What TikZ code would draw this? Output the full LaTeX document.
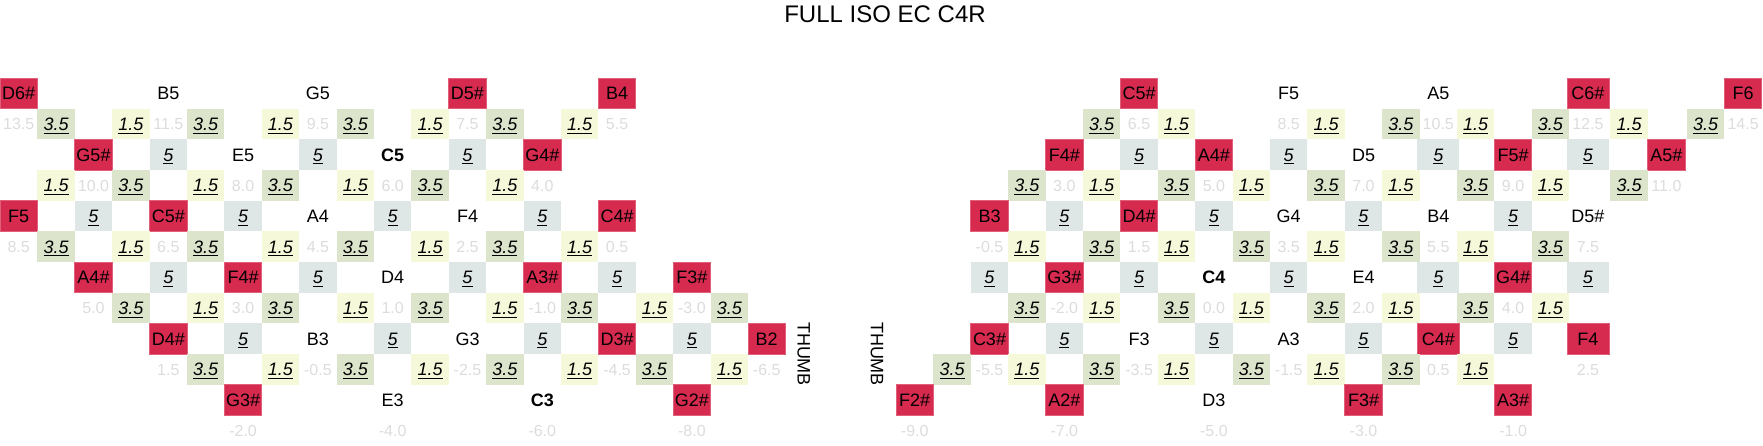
\documentclass[tikz,border=0pt]{standalone}
\usepackage{fontspec}
\setmainfont{Liberation Sans}

\definecolor{keyred}{HTML}{D62A4F}
\definecolor{pitchgray}{HTML}{DCDCDC}
\definecolor{intgreen}{HTML}{DCE5CC}
\definecolor{intyellow}{HTML}{F6F8DA}
\definecolor{intblue}{HTML}{DFE6E6}

\newcommand\cellfont{\fontsize{13.5}{16}\selectfont}
\newcommand\pitchfont{\fontsize{12}{14}\selectfont}
\newlength\ivalwd
\newcommand\ival[1]{\settowidth\ivalwd{\textit{#1}}\textit{#1}\hspace{-\ivalwd}\rule[-2.5pt]{\ivalwd}{0.9pt}}

\begin{document}
\begin{tikzpicture}[x=0.75pt, y=-0.75pt,
    cell/.style={inner sep=0pt, minimum width=28.05pt, minimum height=23pt, text height=9.7pt, text depth=0pt, font=\cellfont},
    note/.style={cell},
    cnote/.style={cell, font=\cellfont\bfseries},
    redkey/.style={cell, fill=keyred, draw=keyred!75!white, line width=0.5pt},
    pitch/.style={cell, text height=8.6pt, font=\pitchfont, text=pitchgray},
    fifthbox/.style={cell, fill=intgreen},
    thirdbox/.style={cell, fill=intyellow},
    seventhbox/.style={cell, fill=intblue},
    thumb/.style={inner sep=0pt, text height=9.7pt, text depth=0pt, font=\cellfont, rotate=-90},
    grid/.style={x=28.05pt, y=-23pt}]

    \useasboundingbox (0,0) rectangle (1763,446);

    % Title
    \node[inner sep=0pt, text height=12.9pt, text depth=0pt, font=\fontsize{18}{22}\selectfont] (title) at (885,14) {FULL ISO EC C4R};

    %% Left hand side
    \begin{scope}[grid, shift={(14.025pt,-70pt)}]
    % Row 0
    \node[redkey] (L0-0) at (0,0) {D6\#};
    \node[note] (L0-4) at (4,0) {B5};
    \node[note] (L0-8) at (8,0) {G5};
    \node[redkey] (L0-12) at (12,0) {D5\#};
    \node[redkey] (L0-16) at (16,0) {B4};

    % Row 1
    \node[pitch] (L1-0) at (0,1) {13.5}; \node[fifthbox] (L1-1) at (1,1) {\ival{3.5}}; \node[thirdbox] (L1-3) at (3,1) {\ival{1.5}};
    \node[pitch] (L1-4) at (4,1) {11.5}; \node[fifthbox] (L1-5) at (5,1) {\ival{3.5}}; \node[thirdbox] (L1-7) at (7,1) {\ival{1.5}};
    \node[pitch] (L1-8) at (8,1) {9.5}; \node[fifthbox] (L1-9) at (9,1) {\ival{3.5}}; \node[thirdbox] (L1-11) at (11,1) {\ival{1.5}};
    \node[pitch] (L1-12) at (12,1) {7.5}; \node[fifthbox] (L1-13) at (13,1) {\ival{3.5}}; \node[thirdbox] (L1-15) at (15,1) {\ival{1.5}};
    \node[pitch] (L1-16) at (16,1) {5.5};

    % Row 2
    \node[redkey] (L2-2) at (2,2) {G5\#};
    \node[seventhbox] (L2-4) at (4,2) {\ival{5}};
    \node[note] (L2-6) at (6,2) {E5};
    \node[seventhbox] (L2-8) at (8,2) {\ival{5}};
    \node[cnote] (L2-10) at (10,2) {C5};
    \node[seventhbox] (L2-12) at (12,2) {\ival{5}};
    \node[redkey] (L2-14) at (14,2) {G4\#};

    % Row 3
    \node[thirdbox] (L3-1) at (1,3) {\ival{1.5}}; \node[pitch] (L3-2) at (2,3) {10.0}; \node[fifthbox] (L3-3) at (3,3) {\ival{3.5}};
    \node[thirdbox] (L3-5) at (5,3) {\ival{1.5}}; \node[pitch] (L3-6) at (6,3) {8.0}; \node[fifthbox] (L3-7) at (7,3) {\ival{3.5}};
    \node[thirdbox] (L3-9) at (9,3) {\ival{1.5}}; \node[pitch] (L3-10) at (10,3) {6.0}; \node[fifthbox] (L3-11) at (11,3) {\ival{3.5}};
    \node[thirdbox] (L3-13) at (13,3) {\ival{1.5}}; \node[pitch] (L3-14) at (14,3) {4.0};

    % Row 4
    \node[redkey] (L4-0) at (0,4) {F5};
    \node[seventhbox] (L4-2) at (2,4) {\ival{5}};
    \node[redkey] (L4-4) at (4,4) {C5\#};
    \node[seventhbox] (L4-6) at (6,4) {\ival{5}};
    \node[note] (L4-8) at (8,4) {A4};
    \node[seventhbox] (L4-10) at (10,4) {\ival{5}};
    \node[note] (L4-12) at (12,4) {F4};
    \node[seventhbox] (L4-14) at (14,4) {\ival{5}};
    \node[redkey] (L4-16) at (16,4) {C4\#};

    % Row 5
    \node[pitch] (L5-0) at (0,5) {8.5}; \node[fifthbox] (L5-1) at (1,5) {\ival{3.5}}; \node[thirdbox] (L5-3) at (3,5) {\ival{1.5}};
    \node[pitch] (L5-4) at (4,5) {6.5}; \node[fifthbox] (L5-5) at (5,5) {\ival{3.5}}; \node[thirdbox] (L5-7) at (7,5) {\ival{1.5}};
    \node[pitch] (L5-8) at (8,5) {4.5}; \node[fifthbox] (L5-9) at (9,5) {\ival{3.5}}; \node[thirdbox] (L5-11) at (11,5) {\ival{1.5}};
    \node[pitch] (L5-12) at (12,5) {2.5}; \node[fifthbox] (L5-13) at (13,5) {\ival{3.5}}; \node[thirdbox] (L5-15) at (15,5) {\ival{1.5}};
    \node[pitch] (L5-16) at (16,5) {0.5};

    % Row 6
    \node[redkey] (L6-2) at (2,6) {A4\#};
    \node[seventhbox] (L6-4) at (4,6) {\ival{5}};
    \node[redkey] (L6-6) at (6,6) {F4\#};
    \node[seventhbox] (L6-8) at (8,6) {\ival{5}};
    \node[note] (L6-10) at (10,6) {D4};
    \node[seventhbox] (L6-12) at (12,6) {\ival{5}};
    \node[redkey] (L6-14) at (14,6) {A3\#};
    \node[seventhbox] (L6-16) at (16,6) {\ival{5}};
    \node[redkey] (L6-18) at (18,6) {F3\#};

    % Row 7
    \node[pitch] (L7-2) at (2,7) {5.0}; \node[fifthbox] (L7-3) at (3,7) {\ival{3.5}};
    \node[thirdbox] (L7-5) at (5,7) {\ival{1.5}}; \node[pitch] (L7-6) at (6,7) {3.0}; \node[fifthbox] (L7-7) at (7,7) {\ival{3.5}};
    \node[thirdbox] (L7-9) at (9,7) {\ival{1.5}}; \node[pitch] (L7-10) at (10,7) {1.0}; \node[fifthbox] (L7-11) at (11,7) {\ival{3.5}};
    \node[thirdbox] (L7-13) at (13,7) {\ival{1.5}}; \node[pitch] (L7-14) at (14,7) {-1.0}; \node[fifthbox] (L7-15) at (15,7) {\ival{3.5}};
    \node[thirdbox] (L7-17) at (17,7) {\ival{1.5}}; \node[pitch] (L7-18) at (18,7) {-3.0}; \node[fifthbox] (L7-19) at (19,7) {\ival{3.5}};

    % Row 8
    \node[redkey] (L8-4) at (4,8) {D4\#};
    \node[seventhbox] (L8-6) at (6,8) {\ival{5}};
    \node[note] (L8-8) at (8,8) {B3};
    \node[seventhbox] (L8-10) at (10,8) {\ival{5}};
    \node[note] (L8-12) at (12,8) {G3};
    \node[seventhbox] (L8-14) at (14,8) {\ival{5}};
    \node[redkey] (L8-16) at (16,8) {D3\#};
    \node[seventhbox] (L8-18) at (18,8) {\ival{5}};
    \node[redkey] (L8-20) at (20,8) {B2};

    % Row 9
    \node[pitch] (L9-4) at (4,9) {1.5}; \node[fifthbox] (L9-5) at (5,9) {\ival{3.5}}; \node[thirdbox] (L9-7) at (7,9) {\ival{1.5}};
    \node[pitch] (L9-8) at (8,9) {-0.5}; \node[fifthbox] (L9-9) at (9,9) {\ival{3.5}}; \node[thirdbox] (L9-11) at (11,9) {\ival{1.5}};
    \node[pitch] (L9-12) at (12,9) {-2.5}; \node[fifthbox] (L9-13) at (13,9) {\ival{3.5}}; \node[thirdbox] (L9-15) at (15,9) {\ival{1.5}};
    \node[pitch] (L9-16) at (16,9) {-4.5}; \node[fifthbox] (L9-17) at (17,9) {\ival{3.5}}; \node[thirdbox] (L9-19) at (19,9) {\ival{1.5}};
    \node[pitch] (L9-20) at (20,9) {-6.5};

    % Row 10 and 11
    \node[redkey] (L10-6) at (6,10) {G3\#};
    \node[note] (L10-10) at (10,10) {E3};
    \node[cnote] (L10-14) at (14,10) {C3};
    \node[redkey] (L10-18) at (18,10) {G2\#};
    \node[pitch] (L11-6) at (6,11) {-2.0};
    \node[pitch] (L11-10) at (10,11) {-4.0};
    \node[pitch] (L11-14) at (14,11) {-6.0};
    \node[pitch] (L11-18) at (18,11) {-8.0};

    % Thumb
    \node[thumb] (Lthumb) at (21,8.5) {THUMB};
    \end{scope}

    %% Right hand side
    \begin{scope}[grid, shift={(686.025pt,-70pt)}]
    % Row 0
    \node[redkey] (R0-6) at (6,0) {C5\#};
    \node[note] (R0-10) at (10,0) {F5};
    \node[note] (R0-14) at (14,0) {A5};
    \node[redkey, minimum width=31.5pt] (R0-18) at (18,0) {C6\#};
    \node[redkey] (R0-22) at (22.15,0) {F6};

    % Row 1
    \node[fifthbox] (R1-5) at (5,1) {\ival{3.5}}; \node[pitch] (R1-6) at (6,1) {6.5}; \node[thirdbox] (R1-7) at (7,1) {\ival{1.5}};
    \node[pitch] (R1-10) at (10,1) {8.5}; \node[thirdbox] (R1-11) at (11,1) {\ival{1.5}};
    \node[fifthbox] (R1-13) at (13,1) {\ival{3.5}}; \node[pitch] (R1-14) at (14,1) {10.5}; \node[thirdbox] (R1-15) at (15,1) {\ival{1.5}};
    \node[fifthbox] (R1-17) at (17,1) {\ival{3.5}}; \node[pitch] (R1-18) at (18,1) {12.5}; \node[thirdbox] (R1-19) at (19.1,1) {\ival{1.5}};
    \node[fifthbox] (R1-21) at (21.15,1) {\ival{3.5}}; \node[pitch] (R1-22) at (22.15,1) {14.5};

    % Row 2
    \node[redkey] (R2-4) at (4,2) {F4\#};
    \node[seventhbox] (R2-6) at (6,2) {\ival{5}};
    \node[redkey] (R2-8) at (8,2) {A4\#};
    \node[seventhbox] (R2-10) at (10,2) {\ival{5}};
    \node[note] (R2-12) at (12,2) {D5};
    \node[seventhbox, minimum width=31.5pt] (R2-14) at (14,2) {\ival{5}};
    \node[redkey] (R2-16) at (16,2) {F5\#};
    \node[seventhbox, minimum width=31.5pt] (R2-18) at (18,2) {\ival{5}};
    \node[redkey] (R2-20) at (20.1,2) {A5\#};

    % Row 3
    \node[fifthbox] (R3-3) at (3,3) {\ival{3.5}}; \node[pitch] (R3-4) at (4,3) {3.0}; \node[thirdbox] (R3-5) at (5,3) {\ival{1.5}};
    \node[fifthbox] (R3-7) at (7,3) {\ival{3.5}}; \node[pitch] (R3-8) at (8,3) {5.0}; \node[thirdbox] (R3-9) at (9,3) {\ival{1.5}};
    \node[fifthbox] (R3-11) at (11,3) {\ival{3.5}}; \node[pitch] (R3-12) at (12,3) {7.0}; \node[thirdbox] (R3-13) at (13,3) {\ival{1.5}};
    \node[fifthbox] (R3-15) at (15,3) {\ival{3.5}}; \node[pitch] (R3-16) at (16,3) {9.0}; \node[thirdbox] (R3-17) at (17,3) {\ival{1.5}};
    \node[fifthbox] (R3-19) at (19.1,3) {\ival{3.5}}; \node[pitch] (R3-20) at (20.1,3) {11.0};

    % Row 4
    \node[redkey] (R4-2) at (2,4) {B3};
    \node[seventhbox] (R4-4) at (4,4) {\ival{5}};
    \node[redkey] (R4-6) at (6,4) {D4\#};
    \node[seventhbox] (R4-8) at (8,4) {\ival{5}};
    \node[note] (R4-10) at (10,4) {G4};
    \node[seventhbox] (R4-12) at (12,4) {\ival{5}};
    \node[note] (R4-14) at (14,4) {B4};
    \node[seventhbox] (R4-16) at (16,4) {\ival{5}};
    \node[note] (R4-18) at (18,4) {D5\#};

    % Row 5
    \node[pitch] (R5-2) at (2,5) {-0.5}; \node[thirdbox] (R5-3) at (3,5) {\ival{1.5}};
    \node[fifthbox] (R5-5) at (5,5) {\ival{3.5}}; \node[pitch] (R5-6) at (6,5) {1.5}; \node[thirdbox] (R5-7) at (7,5) {\ival{1.5}};
    \node[fifthbox] (R5-9) at (9,5) {\ival{3.5}}; \node[pitch] (R5-10) at (10,5) {3.5}; \node[thirdbox] (R5-11) at (11,5) {\ival{1.5}};
    \node[fifthbox] (R5-13) at (13,5) {\ival{3.5}}; \node[pitch] (R5-14) at (14,5) {5.5}; \node[thirdbox] (R5-15) at (15,5) {\ival{1.5}};
    \node[fifthbox] (R5-17) at (17,5) {\ival{3.5}}; \node[pitch] (R5-18) at (18,5) {7.5};

    % Row 6
    \node[seventhbox] (R6-2) at (2,6) {\ival{5}};
    \node[redkey] (R6-4) at (4,6) {G3\#};
    \node[seventhbox] (R6-6) at (6,6) {\ival{5}};
    \node[cnote] (R6-8) at (8,6) {C4};
    \node[seventhbox] (R6-10) at (10,6) {\ival{5}};
    \node[note] (R6-12) at (12,6) {E4};
    \node[seventhbox, minimum width=31.5pt] (R6-14) at (14,6) {\ival{5}};
    \node[redkey] (R6-16) at (16,6) {G4\#};
    \node[seventhbox, minimum width=31.5pt] (R6-18) at (18,6) {\ival{5}};

    % Row 7
    \node[fifthbox] (R7-3) at (3,7) {\ival{3.5}}; \node[pitch] (R7-4) at (4,7) {-2.0}; \node[thirdbox] (R7-5) at (5,7) {\ival{1.5}};
    \node[fifthbox] (R7-7) at (7,7) {\ival{3.5}}; \node[pitch] (R7-8) at (8,7) {0.0}; \node[thirdbox] (R7-9) at (9,7) {\ival{1.5}};
    \node[fifthbox] (R7-11) at (11,7) {\ival{3.5}}; \node[pitch] (R7-12) at (12,7) {2.0}; \node[thirdbox] (R7-13) at (13,7) {\ival{1.5}};
    \node[fifthbox] (R7-15) at (15,7) {\ival{3.5}}; \node[pitch] (R7-16) at (16,7) {4.0}; \node[thirdbox] (R7-17) at (17,7) {\ival{1.5}};

    % Row 8
    \node[redkey] (R8-2) at (2,8) {C3\#};
    \node[seventhbox] (R8-4) at (4,8) {\ival{5}};
    \node[note] (R8-6) at (6,8) {F3};
    \node[seventhbox] (R8-8) at (8,8) {\ival{5}};
    \node[note] (R8-10) at (10,8) {A3};
    \node[seventhbox] (R8-12) at (12,8) {\ival{5}};
    \node[redkey, minimum width=31.5pt] (R8-14) at (14,8) {C4\#};
    \node[seventhbox] (R8-16) at (16,8) {\ival{5}};
    \node[redkey, minimum width=31.5pt] (R8-18) at (18,8) {F4};

    % Row 9
    \node[fifthbox] (R9-1) at (1,9) {\ival{3.5}}; \node[pitch] (R9-2) at (2,9) {-5.5}; \node[thirdbox] (R9-3) at (3,9) {\ival{1.5}};
    \node[fifthbox] (R9-5) at (5,9) {\ival{3.5}}; \node[pitch] (R9-6) at (6,9) {-3.5}; \node[thirdbox] (R9-7) at (7,9) {\ival{1.5}};
    \node[fifthbox] (R9-9) at (9,9) {\ival{3.5}}; \node[pitch] (R9-10) at (10,9) {-1.5}; \node[thirdbox] (R9-11) at (11,9) {\ival{1.5}};
    \node[fifthbox] (R9-13) at (13,9) {\ival{3.5}}; \node[pitch] (R9-14) at (14,9) {0.5}; \node[thirdbox] (R9-15) at (15,9) {\ival{1.5}};
    \node[pitch] (R9-18) at (18,9) {2.5};

    % Row 10 and 11
    \node[redkey] (R10-0) at (0,10) {F2\#};
    \node[redkey] (R10-4) at (4,10) {A2\#};
    \node[note] (R10-8) at (8,10) {D3};
    \node[redkey] (R10-12) at (12,10) {F3\#};
    \node[redkey] (R10-16) at (16,10) {A3\#};
    \node[pitch] (R11-0) at (0,11) {-9.0};
    \node[pitch] (R11-4) at (4,11) {-7.0};
    \node[pitch] (R11-8) at (8,11) {-5.0};
    \node[pitch] (R11-12) at (12,11) {-3.0};
    \node[pitch] (R11-16) at (16,11) {-1.0};

    % Thumb
    \node[thumb] (Rthumb) at (-1,8.5) {THUMB};
    \end{scope}

\end{tikzpicture}
\end{document}
